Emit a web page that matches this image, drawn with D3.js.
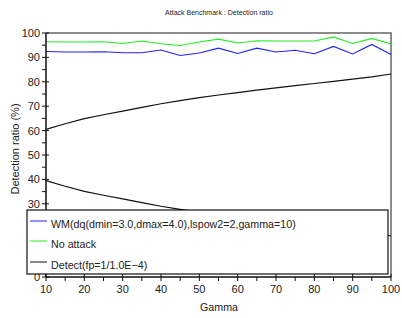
<!DOCTYPE html>
<html>
<head>
<meta charset="UTF-8">
<script src="https://d3js.org/d3.v7.min.js"></script>
<style>
  body { margin: 0; background: #fff; }
  svg text { font-family: "Liberation Sans", Arial, sans-serif; fill: #222; }
</style>
</head>
<body>
<div id="chart"></div>
<script>
// gamma values (x)
var gamma = [10, 15, 20, 25, 30, 35, 40, 45, 50, 55, 60, 65, 70, 75, 80, 85, 90, 95, 100];
// WM(dq(dmin=3.0,dmax=4.0),lspow2=2,gamma=10)
var wm = [92.4, 92.2, 92.2, 92.3, 91.9, 91.9, 93.0, 90.8, 91.8, 93.8, 91.6, 93.8, 92.2, 92.9, 91.5, 94.5, 91.4, 95.3, 91.2];
// No attack
var noAttack = [96.4, 96.3, 96.3, 96.4, 95.7, 96.7, 95.6, 94.9, 96.3, 97.5, 95.9, 96.8, 96.7, 96.7, 96.7, 98.4, 95.7, 97.8, 95.5];
// Detect(fp=1/1.0E-4), upper and lower
var detectHi = [60.5, 62.8, 64.9, 66.5, 68.0, 69.5, 71.0, 72.3, 73.5, 74.6, 75.6, 76.6, 77.5, 78.4, 79.3, 80.2, 81.1, 82.0, 83.2];
var detectLo = [39.5, 37.2, 35.1, 33.5, 32.0, 30.5, 29.0, 27.7, 26.5, 25.4, 24.4, 23.4, 22.5, 21.6, 20.7, 19.8, 18.9, 18.0, 16.8];
var xTicks = [10, 20, 30, 40, 50, 60, 70, 80, 90, 100];
var yTicks = [0, 10, 20, 30, 40, 50, 60, 70, 80, 90, 100];

var width = 402, height = 318;
var pLeft = 46, pRight = 391, pTop = 33, pBottom = 277;

var svg = d3.select("#chart").append("svg")
  .attr("width", width)
  .attr("height", height);

var x = d3.scaleLinear().domain([10, 100]).range([pLeft, pRight]);
var y = d3.scaleLinear().domain([0, 100]).range([pBottom, pTop]);

// title
svg.append("text")
  .attr("x", 219).attr("y", 15)
  .attr("text-anchor", "middle")
  .attr("font-size", "7px")
  .text("Attack Benchmark : Detection ratio");

// frame top/right
svg.append("path")
  .attr("d", "M" + pLeft + "," + pTop + "H" + pRight + "V" + pBottom)
  .attr("fill", "none")
  .attr("stroke", "#666")
  .attr("stroke-width", 1.5);

// lines
var line = function(vals) {
  return d3.line()
    .x(function(d, i) { return x(gamma[i]); })
    .y(function(d) { return y(d); })(vals);
};

svg.append("path").attr("d", line(detectHi)).attr("fill", "none").attr("stroke", "#111").attr("stroke-width", 1.2);
svg.append("path").attr("d", line(detectLo)).attr("fill", "none").attr("stroke", "#111").attr("stroke-width", 1.2);
svg.append("path").attr("d", line(noAttack)).attr("fill", "none").attr("stroke", "#22ee22").attr("stroke-width", 1.1);
svg.append("path").attr("d", line(wm)).attr("fill", "none").attr("stroke", "#2222ee").attr("stroke-width", 1.1);

// y axis
var yAxis = svg.append("g");
yAxis.append("line")
  .attr("x1", pLeft).attr("x2", pLeft)
  .attr("y1", pTop).attr("y2", pBottom)
  .attr("stroke", "#111").attr("stroke-width", 1.5);
yAxis.selectAll(".minor")
  .data(d3.range(5, 100, 10))
  .enter().append("line")
  .attr("x1", pLeft - 4).attr("x2", pLeft)
  .attr("y1", function(d) { return y(d); })
  .attr("y2", function(d) { return y(d); })
  .attr("stroke", "#111");
yAxis.selectAll(".major")
  .data(yTicks)
  .enter().append("line")
  .attr("x1", pLeft - 4).attr("x2", pLeft + 3)
  .attr("y1", function(d) { return y(d); })
  .attr("y2", function(d) { return y(d); })
  .attr("stroke", "#111");
yAxis.selectAll("text")
  .data(yTicks)
  .enter().append("text")
  .attr("x", pLeft - 6)
  .attr("y", function(d) { return y(d) + 4; })
  .attr("text-anchor", "end")
  .attr("font-size", "11px")
  .text(function(d) { return d; });

svg.append("text")
  .attr("transform", "translate(19,149) rotate(-90)")
  .attr("text-anchor", "middle")
  .attr("font-size", "11px")
  .text("Detection ratio (%)");

// legend (drawn over data)
var lg = svg.append("g");
lg.append("rect")
  .attr("x", 27).attr("y", 210)
  .attr("width", 361).attr("height", 64)
  .attr("fill", "#fff")
  .attr("stroke", "#111")
  .attr("stroke-width", 1.2);
var legendItems = [
  { label: "WM(dq(dmin=3.0,dmax=4.0),lspow2=2,gamma=10)", color: "#2222ee", y: 221 },
  { label: "No attack", color: "#22ee22", y: 241 },
  { label: "Detect(fp=1/1.0E\u22124)", color: "#111", y: 262 }
];
legendItems.forEach(function(d) {
  lg.append("line")
    .attr("x1", 30).attr("x2", 47)
    .attr("y1", d.y).attr("y2", d.y)
    .attr("stroke", d.color).attr("stroke-width", 1);
  lg.append("text")
    .attr("x", 51).attr("y", d.y + 7)
    .attr("font-size", "10.7px")
    .text(d.label);
});

// x axis
var xAxis = svg.append("g");
xAxis.append("line")
  .attr("x1", pLeft).attr("x2", pRight)
  .attr("y1", pBottom).attr("y2", pBottom)
  .attr("stroke", "#111").attr("stroke-width", 1.5);
xAxis.selectAll(".minor")
  .data(d3.range(15, 100, 10))
  .enter().append("line")
  .attr("x1", function(d) { return x(d); })
  .attr("x2", function(d) { return x(d); })
  .attr("y1", pBottom).attr("y2", pBottom + 4)
  .attr("stroke", "#111");
xAxis.selectAll(".major")
  .data(xTicks)
  .enter().append("line")
  .attr("x1", function(d) { return x(d); })
  .attr("x2", function(d) { return x(d); })
  .attr("y1", pBottom - 3).attr("y2", pBottom + 4)
  .attr("stroke", "#111");
xAxis.selectAll("text")
  .data(xTicks)
  .enter().append("text")
  .attr("x", function(d) { return x(d); })
  .attr("y", pBottom + 16)
  .attr("text-anchor", "middle")
  .attr("font-size", "11px")
  .text(function(d) { return d; });

svg.append("text")
  .attr("x", 219).attr("y", 311)
  .attr("text-anchor", "middle")
  .attr("font-size", "10.7px")
  .text("Gamma");
</script>
</body>
</html>
